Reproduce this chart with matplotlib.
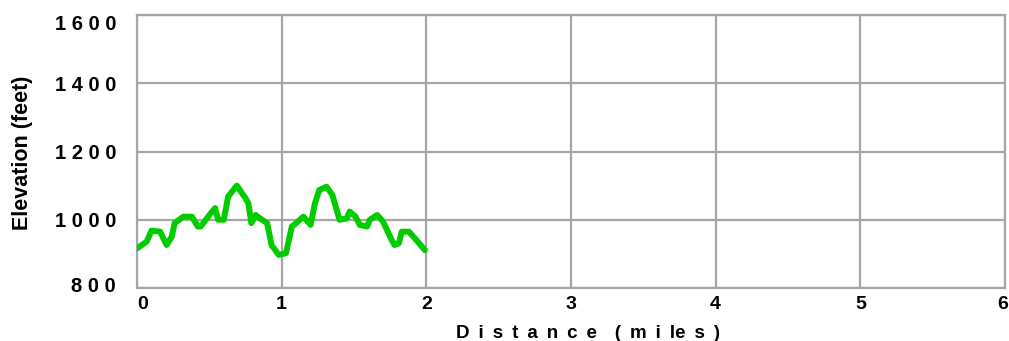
import matplotlib
matplotlib.use("Agg")
import matplotlib.pyplot as plt
from matplotlib.transforms import ScaledTranslation

# Elevation profile along the trail
distance_mi = [0.00, 0.067, 0.10, 0.16, 0.205, 0.24, 0.26, 0.32, 0.38, 0.42, 0.44,
               0.51, 0.54, 0.56, 0.60, 0.63, 0.69, 0.75, 0.77, 0.79, 0.82, 0.85,
               0.90, 0.93, 0.98, 1.03, 1.07, 1.10, 1.15, 1.20, 1.23, 1.26, 1.31,
               1.35, 1.40, 1.45, 1.47, 1.51, 1.54, 1.59, 1.61, 1.66, 1.70, 1.76,
               1.78, 1.81, 1.83, 1.88, 1.93, 1.99]
elevation_ft = [916, 936, 968, 965, 926, 950, 990, 1009, 1009, 980, 980,
                1019, 1034, 1000, 1000, 1068, 1100, 1063, 1048, 990, 1014, 1004,
                990, 926, 897, 902, 980, 990, 1009, 985, 1048, 1087, 1097,
                1073, 1000, 1004, 1024, 1009, 985, 980, 1000, 1014, 995, 941,
                926, 931, 965, 965, 941, 911]

x_ticks = [0, 1, 2, 3, 4, 5, 6]
y_ticks = [800, 1000, 1200, 1400, 1600]

plt.rcParams['font.family'] = ['Liberation Sans', 'DejaVu Sans']

W, H = 1009, 341
fig = plt.figure(figsize=(W / 100, H / 100), dpi=100)
ax = fig.add_axes([137 / W, 1 - 288 / H, (1005 - 137) / W, (288 - 15) / H])

ax.plot(distance_mi, elevation_ft, color='#00cc00', linewidth=4.3,
        solid_joinstyle='round', solid_capstyle='round', zorder=3)

ax.set_xlim(0, 6)
ax.set_ylim(800, 1600)
ax.set_xticks(x_ticks)
ax.set_yticks(y_ticks)
ax.set_xticklabels([str(t) for t in x_ticks], fontsize=14, fontweight='bold')
ax.set_yticklabels([' '.join(str(t)) for t in y_ticks], fontsize=14.5, fontweight='bold')
ax.tick_params(axis='y', length=0, pad=15)
ax.tick_params(axis='x', length=0, pad=6)

# keep the end labels inside the frame
ylabels = ax.get_yticklabels()
ylabels[0].set_transform(ylabels[0].get_transform() + ScaledTranslation(0, 4 / 100, fig.dpi_scale_trans))
ylabels[-1].set_transform(ylabels[-1].get_transform() + ScaledTranslation(0, -8 / 100, fig.dpi_scale_trans))
xlabels = ax.get_xticklabels()
xlabels[0].set_transform(xlabels[0].get_transform() + ScaledTranslation(6 / 100, 0, fig.dpi_scale_trans))
xlabels[-1].set_transform(xlabels[-1].get_transform() + ScaledTranslation(-2 / 100, 0, fig.dpi_scale_trans))

ax.grid(True, color='#a6a6a6', linewidth=1.6)
ax.set_axisbelow(True)
for s in ax.spines.values():
    s.set_color('#a6a6a6')
    s.set_linewidth(1.6)

fig.text(23 / W, 1 - 152.5 / H, 'Elevation (feet)', rotation=90, ha='center', va='center',
         fontsize=15.5, fontweight='bold')

gap = ' \u2009'
xlabel = gap.join('Distance') + gap * 2 + gap.join(['(', 'm', 'i', 'le', 's', ')'])
fig.text(588 / W, 1 - 338 / H, xlabel, ha='center', va='baseline',
         fontsize=13.5, fontweight='bold')

fig.savefig('out.png', dpi=100)
